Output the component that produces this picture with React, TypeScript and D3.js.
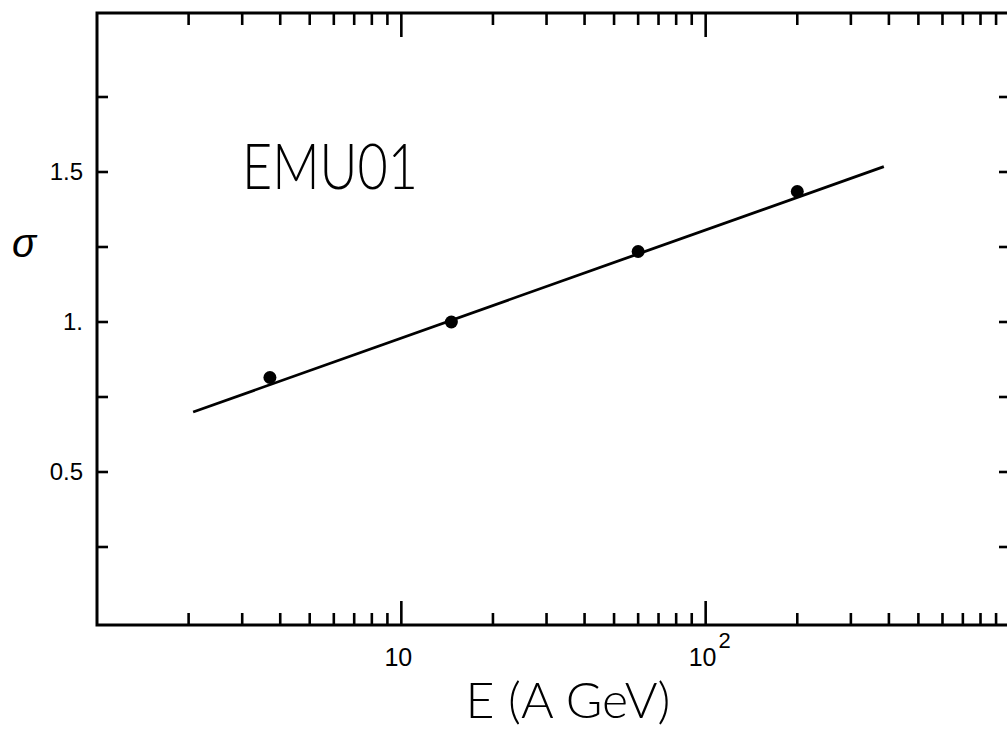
import React from "react";
import * as d3 from "d3";

const energies = [3.7, 14.6, 60, 200];
const sigmaValues = [0.815, 1.0, 1.235, 1.435];
const fitEnergies = [2.07, 385];
const fitSigma = [0.70, 1.518];
const yMajorTicks = [0.5, 1.0, 1.5];
const yMajorLabels = ["0.5", "1.", "1.5"];
const yMinorTicks = [0.25, 0.75, 1.25, 1.75];
const xLabelTicks = [10, 100];

const W = 1007;
const H = 735;
const left = 97;
const right = 1010;
const top = 13;
const bottom = 625;

export default function App() {
  const x = d3.scaleLog().domain([1, 1000]).range([left, right]);
  const y = d3.scaleLinear().domain([-0.01, 2.03]).range([bottom, top]);

  const xTicks: { v: number; major: boolean }[] = [];
  for (let dec = 1; dec < 1000; dec *= 10) {
    for (let k = 1; k <= 9; k++) {
      const v = dec * k;
      if (v <= 1) continue;
      xTicks.push({ v, major: k === 1 });
    }
  }
  xTicks.push({ v: 1000, major: true });

  const line = d3
    .line<number>()
    .x((_, i) => x(fitEnergies[i]))
    .y((d) => y(d));

  const font = "'Liberation Sans', Arial, sans-serif";
  const thin = "Lato, 'Open Sans', sans-serif";
  const sw = 2.6;

  return (
    <svg
      width={W}
      height={H}
      style={{ position: "absolute", left: 0, top: 0, background: "#fff" }}
    >
      <rect x={0} y={0} width={W} height={H} fill="#fff" />
      {/* frame */}
      <rect
        x={left}
        y={top}
        width={right - left}
        height={bottom - top}
        fill="none"
        stroke="#000"
        strokeWidth={3}
      />
      {/* x ticks top & bottom */}
      {xTicks.map((t, i) => {
        const len = t.major ? 24 : 12;
        return (
          <g key={"xt" + i} stroke="#000" strokeWidth={sw}>
            <line x1={x(t.v)} x2={x(t.v)} y1={bottom} y2={bottom - len} />
            <line x1={x(t.v)} x2={x(t.v)} y1={top} y2={top + len} />
          </g>
        );
      })}
      {/* y ticks left & right */}
      {[...yMajorTicks, ...yMinorTicks].map((v, i) => (
        <g key={"yt" + i} stroke="#000" strokeWidth={sw}>
          <line x1={left} x2={left + 11} y1={y(v)} y2={y(v)} />
          <line x1={right} x2={right - 11} y1={y(v)} y2={y(v)} />
        </g>
      ))}
      {/* y labels */}
      {yMajorTicks.map((v, i) => (
        <text
          key={"yl" + i}
          x={83}
          y={y(v) + 8}
          textAnchor="end"
          fontFamily={font}
          fontSize={24}
          fill="#000"
        >
          {yMajorLabels[i]}
        </text>
      ))}
      {/* x labels */}
      <text
        x={x(xLabelTicks[0]) - 3}
        y={666}
        textAnchor="middle"
        fontFamily={font}
        fontSize={25}
        fill="#000"
      >
        10
      </text>
      <text x={x(xLabelTicks[1]) - 17} y={666} fontFamily={font} fontSize={25} fill="#000">
        10
        <tspan dx={2} dy={-18} fontSize={22}>
          2
        </tspan>
      </text>
      {/* axis titles */}
      <text
        x={568}
        y={718}
        textAnchor="middle"
        fontFamily={thin}
        fontWeight={300}
        fontSize={50}
        fill="#000"
      >
        E (A GeV)
      </text>
      <text
        x={24}
        y={257}
        textAnchor="middle"
        fontFamily={font}
        fontStyle="italic"
        fontSize={40}
        fill="#000"
      >
        σ
      </text>
      <text
        x={330}
        y={189}
        textAnchor="middle"
        fontFamily={thin}
        fontWeight={300}
        fontSize={64}
        textLength={176}
        lengthAdjust="spacingAndGlyphs"
        fill="#000"
      >
        EMU01
      </text>
      {/* fit line */}
      <path d={line(fitSigma) || ""} fill="none" stroke="#000" strokeWidth={2.8} />
      {/* points */}
      {energies.map((e, i) => (
        <circle key={"p" + i} cx={x(e)} cy={y(sigmaValues[i])} r={6.5} fill="#000" />
      ))}
    </svg>
  );
}
